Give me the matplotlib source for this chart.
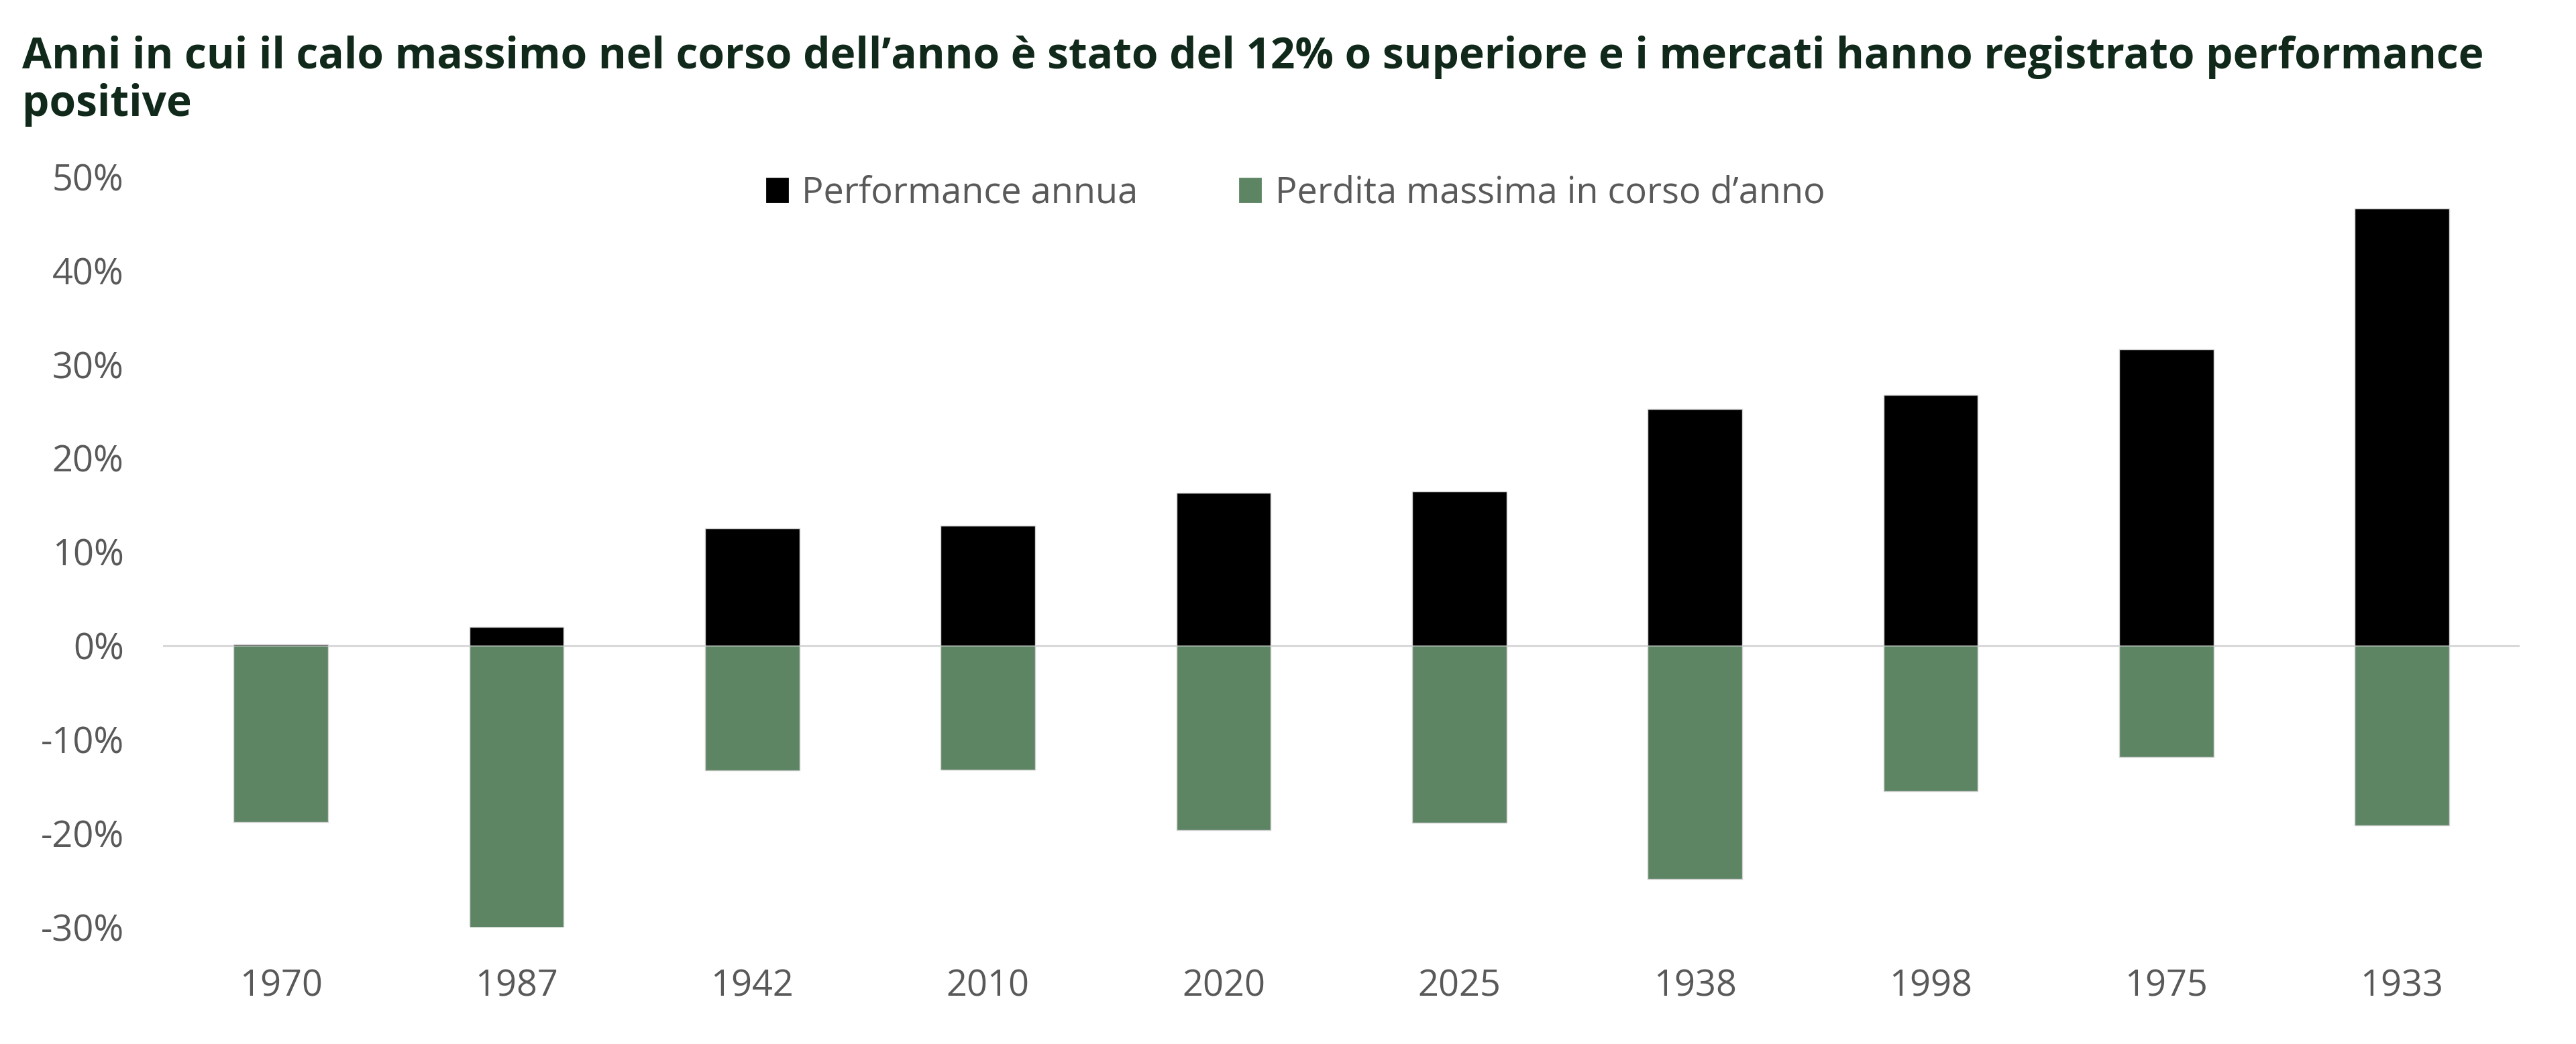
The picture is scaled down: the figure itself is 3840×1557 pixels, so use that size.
import matplotlib
matplotlib.use("Agg")
import matplotlib.pyplot as plt
import matplotlib.ticker as mticker
from matplotlib.patches import Patch

# ── Data ───────────────────────────────────────────────────────────────────
years       = ["1970", "1987", "1942", "2010", "2020", "2025", "1938", "1998", "1975", "1933"]
performance = [0.1, 2.0, 12.5, 12.8, 16.3, 16.4, 25.2, 26.7, 31.6, 46.6]          # annual return, %
max_drawdown = [-18.8, -30.1, -13.3, -13.2, -19.7, -18.9, -24.9, -15.5, -11.9, -19.2]  # intra-year low, %

TITLE = ("Anni in cui il calo massimo nel corso dell\u2019anno è stato del 12% o superiore "
         "e i mercati hanno registrato performance\npositive")
LABELS = ["Performance annua", "Perdita massima in corso d\u2019anno"]

COLORS = {"perf": "#000000", "dd": "#5d8564", "grid": "#d9d9d9", "text": "#595959", "title": "#10291a"}
plt.rcParams.update({"font.family": ["Open Sans", "DejaVu Sans"], "font.size": 19.5})

# ── Figure ─────────────────────────────────────────────────────────────────
fig = plt.figure(figsize=(19.2, 7.785), dpi=200)
ax = fig.add_axes([0.0633, 0.1120, 0.9149, 0.7190])

x = range(len(years))
ax.bar(x, performance, width=0.4, color=COLORS["perf"], edgecolor="#d0d0d0", linewidth=0.5, zorder=2)
ax.bar(x, max_drawdown, width=0.4, color=COLORS["dd"], edgecolor="#d0d0d0", linewidth=0.5, zorder=2)
ax.axhline(0, color=COLORS["grid"], linewidth=1.1, zorder=1)

ax.set_xlim(-0.5, len(years) - 0.5)
ax.set_ylim(-30, 50)
ax.set_yticks(range(-30, 51, 10))
ax.yaxis.set_major_formatter(mticker.FuncFormatter(lambda v, _: f"{int(round(v))}%"))
ax.set_xticks(list(x))
ax.set_xticklabels(years)
ax.tick_params(axis="both", length=0, colors=COLORS["text"], labelsize=19.5)
ax.tick_params(axis="x", pad=22)
ax.tick_params(axis="y", pad=21)
for s in ax.spines.values():
    s.set_visible(False)

handles = [Patch(color=COLORS["perf"], label=LABELS[0]), Patch(color=COLORS["dd"], label=LABELS[1])]
leg = fig.legend(handles=handles, loc="center", bbox_to_anchor=(0.503, 0.815), ncol=2, frameon=False,
                 fontsize=19.5, handlelength=0.57, handleheight=0.6, handletextpad=0.4, columnspacing=2.8)
for t in leg.get_texts():
    t.set_color(COLORS["text"])

fig.text(0.0085, 0.966, TITLE, ha="left", va="top", fontsize=23, fontweight="bold",
         color=COLORS["title"], linespacing=1.13)

fig.savefig("out.png", dpi=200)
